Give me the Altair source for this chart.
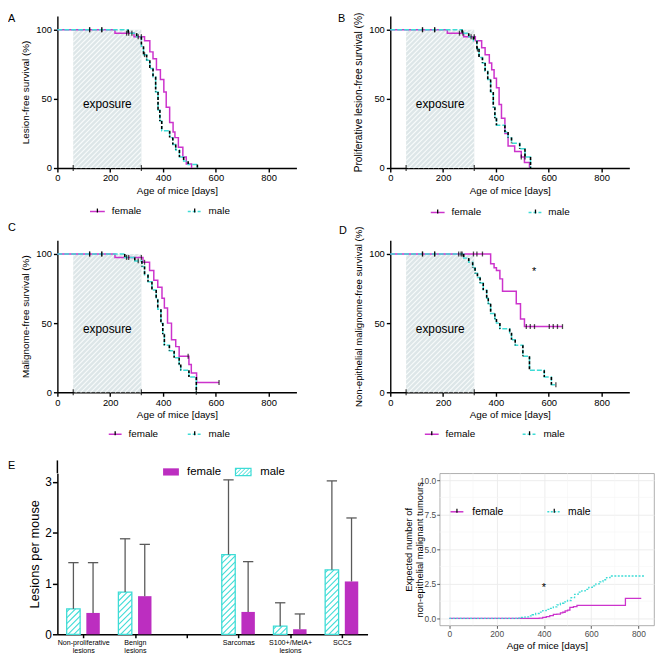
import altair as alt
import numpy as np
import pandas as pd

FONT = "Liberation Sans"
FEM = "#cc33cc"
MAL = "#3edcd6"
BAR_F = "#bc2ec0"
EXPO_FILL = "#dde6e8"
ERR = "#5a5a5a"

EXPOSURE = [60, 318]
EXPO_LABEL = [189, 46]

A_F_T = [0, 218, 290, 330, 350, 362, 375, 390, 403, 412, 425, 438, 445, 458, 475, 488, 508]
A_F_S = [100, 97.5, 95, 92, 84, 79, 71, 64, 55, 44, 33, 26, 22, 15, 8, 3, 0]
A_M_T = [0, 268, 300, 318, 326, 338, 350, 362, 372, 381, 388, 395, 425, 437, 448, 462, 478, 495, 530]
A_M_S = [100, 97.5, 95, 88, 82, 78, 72, 66, 55, 42, 34, 27, 22, 17, 13, 8, 5, 2.5, 0]
A_F_C = [122, 168, 262, 318]
A_M_C = [122, 168, 270, 282, 306, 330]

B_F_T = [0, 216, 278, 322, 346, 359, 375, 384, 393, 402, 412, 421, 434, 446, 471, 496, 508, 527]
B_F_S = [100, 97.5, 95, 92, 87, 82, 76, 71, 65, 58, 46, 36, 25, 16, 12, 8, 4, 0]
B_M_T = [0, 272, 297, 315, 328, 336, 349, 359, 369, 380, 390, 396, 402, 434, 446, 459, 490, 510, 531]
B_M_S = [100, 97.5, 95, 92, 86, 80, 76, 70, 64, 55, 44, 36, 31, 26, 22, 18, 14, 8, 0]
B_F_C = [122, 168, 262, 318, 496]
B_M_C = [122, 168, 275, 306, 330, 510]

C_F_T = [0, 218, 324, 349, 365, 380, 396, 405, 417, 432, 448, 461, 498, 507, 527, 612]
C_F_S = [100, 97.5, 94, 88, 81, 76, 68, 61, 50, 38, 33, 26, 20, 14, 7, 7]
C_M_T = [0, 255, 293, 320, 330, 343, 358, 374, 380, 392, 399, 405, 424, 442, 461, 467, 498, 526]
C_M_S = [100, 97.5, 95, 91, 85, 80, 74, 67, 60, 50, 42, 34, 30, 25, 20, 16, 11, 0]
C_F_C = [122, 168, 262, 318, 330, 495, 612]
C_M_C = [122, 168, 270, 306, 526]

D_F_T = [0, 380, 393, 402, 415, 425, 477, 493, 508, 652]
D_F_S = [100, 93, 90, 88, 82, 73, 64, 53, 47.5, 47.5]
D_M_T = [0, 278, 297, 312, 321, 330, 340, 352, 365, 371, 380, 396, 402, 415, 452, 459, 473, 502, 527, 583, 610, 627]
D_M_S = [100, 97, 94, 90, 86, 83, 79, 74, 68, 64, 57, 53, 50, 46, 43, 38, 34, 26, 16, 11, 5.5, 5.5]
D_F_C = [122, 168, 259, 272, 315, 328, 349, 515, 530, 546, 602, 617, 633, 652]
D_M_C = [122, 168, 268, 627]
D_STAR = [545, 87]

E_LABELS = ["Non-proliferative\nlesions", "Benign\nlesions", "", "Sarcomas", "S100+/MelA+\nlesions", "SCCs"]
E_POS = [0, 1, 3, 4, 5]
E_MALE = [0.50, 0.83, 1.57, 0.16, 1.27]
E_MALE_TOP = [1.41, 1.88, 3.04, 0.62, 3.02]
E_FEMALE = [0.42, 0.75, 0.44, 0.10, 1.04]
E_FEMALE_TOP = [1.41, 1.77, 1.43, 0.40, 2.29]

F_M_T = [0, 290, 305, 320, 335, 350, 365, 380, 395, 410, 425, 440, 455, 470, 485, 500, 515, 530,
         545, 560, 575, 590, 605, 620, 635, 650, 665, 680, 825]
F_M_V = [0, 0.03, 0.07, 0.12, 0.18, 0.27, 0.36, 0.46, 0.57, 0.66, 0.73, 0.84, 0.98, 1.1, 1.2, 1.3, 1.5, 1.75,
         1.9, 2.0, 2.1, 2.25, 2.35, 2.5, 2.65, 2.8, 2.95, 3.07, 3.07]
F_F_T = [0, 380, 395, 410, 425, 440, 455, 470, 480, 490, 500, 510, 525, 540, 745, 812]
F_F_V = [0, 0.03, 0.08, 0.13, 0.2, 0.3, 0.32, 0.4, 0.45, 0.55, 0.6, 0.8, 0.85, 0.95, 1.45, 1.45]
F_STAR = [400, 2.2]
F_MINOR_X = [100, 300, 500, 700]
F_MINOR_Y = [1.25, 3.75, 6.25, 8.75]

KM_W, KM_H = 242, 154
KM_XDOM = [0, 905]
KM_YDOM = [0, 110]
SX = KM_W / (KM_XDOM[1] - KM_XDOM[0])
SY = KM_H / (KM_YDOM[1] - KM_YDOM[0])

E_W, E_H = 314, 163
E_XDOM = [-0.5, 5.5]
E_YDOM = [0, 3.17]
ESX = E_W / (E_XDOM[1] - E_XDOM[0])
ESY = E_H / (E_YDOM[1] - E_YDOM[0])

F_W, F_H = 217, 154
F_XDOM = [-41, 866]
F_YDOM = [-0.5, 10.5]

ONE = pd.DataFrame({"k": [0]})


def hatch(x0, x1, y0, y1, sx, sy, gap):
    W = (x1 - x0) * sx
    H = (y1 - y0) * sy
    rows = []
    c = -H + gap / 2
    while c < W:
        xa = max(0.0, c)
        xb = min(W, c + H)
        if xb > xa:
            rows.append({"x1": x0 + xa / sx, "y1": y0 + (xa - c) / sy,
                         "x2": x0 + xb / sx, "y2": y0 + (xb - c) / sy})
        c += gap
    return rows


def vtext(txt, x, y, size=10, align="left", baseline="middle", color="black"):
    return alt.Chart(ONE).mark_text(text=txt, font=FONT, fontSize=size, align=align,
                                    baseline=baseline, color=color).encode(
        x=alt.value(x), y=alt.value(y))


def vrule(x1, x2, y1, y2, color, width=1.5, dash=None, opacity=1.0):
    kw = dict(color=color, strokeWidth=width, opacity=opacity)
    if dash:
        kw["strokeDash"] = dash
    return alt.Chart(ONE).mark_rule(**kw).encode(
        x=alt.value(x1), x2=alt.value(x2), y=alt.value(y1), y2=alt.value(y2))


def spacer(L, R, T, Bm):
    # invisible frame that fixes the extent of a panel in the layout
    return alt.Chart(ONE).mark_rect(fillOpacity=0, strokeOpacity=0).encode(
        x=alt.value(L), x2=alt.value(R), y=alt.value(T), y2=alt.value(Bm))


def step_at(t, s, tc):
    idx = max(i for i in range(len(t)) if t[i] <= tc)
    return s[idx]


def km_panel(letter, ytitle, ft, fs, mt, ms, fc, mc, lab, sp, leg, star=None, ytsize=10):
    xa = alt.Axis(values=[0, 200, 400, 600, 800], title="Age of mice [days]", grid=False,
                  domainColor="black", domainWidth=1.4, tickColor="black", tickWidth=1.4, tickSize=4,
                  labelFontSize=9.5, labelColor="black", labelPadding=1, labelFlush=False,
                  titleFontSize=10, titleFontWeight="normal", titleColor="black", titlePadding=3)
    ya = alt.Axis(values=[0, 50, 100], title=ytitle, grid=False,
                  domainColor="black", domainWidth=1.4, tickColor="black", tickWidth=1.4, tickSize=4,
                  labelFontSize=9.5, labelColor="black", labelPadding=2,
                  titleFontSize=ytsize, titleFontWeight="normal", titleColor="black", titlePadding=5)

    def X(f):
        return alt.X(f, type="quantitative", scale=alt.Scale(domain=KM_XDOM, nice=False, zero=False), axis=xa)

    def Y(f):
        return alt.Y(f, type="quantitative", scale=alt.Scale(domain=KM_YDOM, nice=False, zero=False), axis=ya)

    layers = []
    expo = pd.DataFrame({"a": [EXPOSURE[0]], "b": [EXPOSURE[1]], "lo": [0], "hi": [100]})
    layers.append(alt.Chart(expo).mark_rect(fill=EXPO_FILL).encode(x=X("a"), x2="b", y=Y("lo"), y2="hi"))
    hd = pd.DataFrame(hatch(EXPOSURE[0], EXPOSURE[1], 0, 100, SX, SY, 5))
    layers.append(alt.Chart(hd).mark_rule(color="#f8fbfb", strokeWidth=1.1).encode(
        x=X("x1"), x2="x2", y=Y("y1"), y2="y2"))
    layers.append(alt.Chart(pd.DataFrame({"x": [EXPO_LABEL[0]], "y": [EXPO_LABEL[1]], "l": ["exposure"]}))
                  .mark_text(font=FONT, fontSize=12, color="black").encode(x=X("x"), y=Y("y"), text="l"))
    layers.append(alt.Chart(pd.DataFrame({"x": EXPOSURE, "y": [0, 0]}))
                  .mark_tick(orient="vertical", size=6, thickness=1.3, color="black").encode(x=X("x"), y=Y("y")))

    fdf = pd.DataFrame({"t": ft, "s": fs})
    mdf = pd.DataFrame({"t": mt, "s": ms})
    drops = pd.DataFrame({"t": mt[1:], "s0": ms[:-1], "s1": ms[1:]})
    layers.append(alt.Chart(fdf).mark_line(interpolate="step-after", color=FEM, strokeWidth=1.5)
                  .encode(x=X("t"), y=Y("s")))
    layers.append(alt.Chart(mdf).mark_line(interpolate="step-after", color=MAL, strokeWidth=1.5,
                                           strokeDash=[5, 2]).encode(x=X("t"), y=Y("s")))
    layers.append(alt.Chart(drops).mark_rule(color="black", strokeWidth=1.6, strokeDash=[3, 2])
                  .encode(x=X("t"), y=Y("s0"), y2="s1"))
    cens = pd.DataFrame({"t": fc + mc,
                         "s": [step_at(ft, fs, c) for c in fc] + [step_at(mt, ms, c) for c in mc]})
    layers.append(alt.Chart(cens).mark_tick(orient="vertical", size=5, thickness=1.3, color="black")
                  .encode(x=X("t"), y=Y("s")))
    if star:
        layers.append(alt.Chart(pd.DataFrame({"x": [star[0]], "y": [star[1]], "l": ["*"]}))
                      .mark_text(font=FONT, fontSize=11, color="black").encode(x=X("x"), y=Y("y"), text="l"))

    layers.append(vtext(letter, lab[0], lab[1], size=11, baseline="top"))
    (f0, f1, ftx, m0, m1, mtx, ly) = leg
    layers.append(vrule(f0, f1, ly, ly, FEM, 1.5))
    layers.append(vrule((f0 + f1) / 2, (f0 + f1) / 2, ly - 3, ly + 1, "black", 1.3))
    layers.append(vtext("female", ftx, ly, size=10))
    layers.append(vrule(m0, m1, ly, ly, MAL, 1.5, dash=[3, 2]))
    layers.append(vrule((m0 + m1) / 2, (m0 + m1) / 2, ly - 3, ly + 1, "black", 1.3))
    layers.append(vtext("male", mtx, ly, size=10))
    layers.append(spacer(*sp))
    return alt.layer(*layers).properties(width=KM_W, height=KM_H)


A = km_panel("A", "Lesion-free survival (%)", A_F_T, A_F_S, A_M_T, A_M_S, A_F_C, A_M_C,
             (-50, -3), (-50, 243, -3, 204), (33, 48, 55, 132, 146, 153, 198))
B = km_panel("B", "Proliferative lesion-free survival (%)", B_F_T, B_F_S, B_M_T, B_M_S, B_F_C, B_M_C,
             (-53, -3), (-57, 244, -3, 204), (41, 55, 62, 140, 154, 160, 199), ytsize=10.3)
C = km_panel("C", "Malignome-free survival (%)", C_F_T, C_F_S, C_M_T, C_M_S, C_F_C, C_M_C,
             (-50, -18.5), (-50, 243, -22.7, 202.3), (52, 65, 72, 132, 146, 153, 196.5))
D = km_panel("D", "Non-epithelial malignome-free survival (%)", D_F_T, D_F_S, D_M_T, D_M_S, D_F_C, D_M_C,
             (-52, -15), (-57, 244, -22.7, 202.3), (35, 49, 56, 134, 148, 155, 196.5), star=D_STAR, ytsize=9.7)

expr = "''"
for i in reversed(range(len(E_LABELS))):
    lines = E_LABELS[i].split("\n")
    if len(lines) > 1:
        lit = "[" + ",".join("'" + l + "'" for l in lines) + "]"
    else:
        lit = "'" + lines[0] + "'"
    expr = "datum.value == %d ? %s : (%s)" % (i, lit, expr)

exa = alt.Axis(values=[0, 1, 2, 3, 4, 5], labelExpr=expr, title=None, grid=False,
               domainColor="black", domainWidth=1.5, tickColor="black", tickWidth=1.5, tickSize=3.5,
               labelFontSize=7.2, labelColor="black", labelPadding=1, labelLineHeight=8.3,
               labelBaseline="top", labelFlush=False, labelOverlap=False)
eya = alt.Axis(values=[0, 1, 2, 3], format="d", title="Lesions per mouse", grid=False,
               domainColor="black", domainWidth=1.5, tickColor="black", tickWidth=1.5, tickSize=5,
               labelFontSize=12, labelColor="black", labelPadding=1,
               titleFontSize=13, titleFontWeight="normal", titleColor="black", titlePadding=3)


def EX(f):
    return alt.X(f, type="quantitative", scale=alt.Scale(domain=E_XDOM, nice=False, zero=False), axis=exa)


def EY(f):
    return alt.Y(f, type="quantitative", scale=alt.Scale(domain=E_YDOM, nice=False, zero=False), axis=eya)


def bars_df(pos, vals, tops, lo, hi):
    xc = [p + (lo + hi) / 2 for p in pos]
    return pd.DataFrame({"x1": [p + lo for p in pos], "x2": [p + hi for p in pos], "v": vals, "sd": tops,
                         "xc": xc, "c1": [c - 0.1 for c in xc], "c2": [c + 0.1 for c in xc],
                         "z": [0] * len(pos)})


mb = bars_df(E_POS, E_MALE, E_MALE_TOP, -0.32, -0.06)
fb = bars_df(E_POS, E_FEMALE, E_FEMALE_TOP, 0.06, 0.32)
eh = []
for _, r in mb.iterrows():
    eh += hatch(r.x1, r.x2, 0, r.v, ESX, ESY, 6)
eh = pd.DataFrame(eh)

e_layers = [
    alt.Chart(mb).mark_rect(fill="white", stroke=MAL, strokeWidth=1.3).encode(x=EX("x1"), x2="x2", y=EY("z"), y2="v"),
    alt.Chart(eh).mark_rule(color=MAL, strokeWidth=1.1).encode(x=EX("x1"), x2="x2", y=EY("y1"), y2="y2"),
    alt.Chart(fb).mark_rect(fill=BAR_F).encode(x=EX("x1"), x2="x2", y=EY("z"), y2="v"),
]
for bd in (mb, fb):
    e_layers.append(alt.Chart(bd).mark_rule(color=ERR, strokeWidth=1.3).encode(x=EX("xc"), y=EY("v"), y2="sd"))
    e_layers.append(alt.Chart(bd).mark_rule(color=ERR, strokeWidth=1.3).encode(x=EX("c1"), x2="c2", y=EY("sd")))

e_layers.append(vrule(0, 0, -13, 0, "black", 1.5))
LY0, LY1 = -5, 2.3
e_layers.append(alt.Chart(ONE).mark_rect(fill=BAR_F).encode(
    x=alt.value(107), x2=alt.value(123), y=alt.value(LY0), y2=alt.value(LY1)))
e_layers.append(alt.Chart(ONE).mark_rect(fill="white", stroke=MAL, strokeWidth=1.2).encode(
    x=alt.value(180.3), x2=alt.value(196), y=alt.value(LY0), y2=alt.value(LY1)))
for h in hatch(180.3, 196, 0, LY1 - LY0, 1, 1, 4):
    e_layers.append(vrule(h["x1"], h["x2"], LY1 - h["y1"], LY1 - h["y2"], MAL, 1.0))
e_layers.append(vtext("female", 131.3, (LY0 + LY1) / 2, size=11.5))
e_layers.append(vtext("male", 205.3, (LY0 + LY1) / 2, size=11.5))
e_layers.append(vtext("E", -50, -13, size=11, baseline="top"))
e_layers.append(spacer(-50, 315, -32, 183))
E = alt.layer(*e_layers).properties(width=E_W, height=E_H)

fxa = alt.Axis(values=[0, 200, 400, 600, 800], grid=True, gridColor="#ebebeb", gridWidth=0.9, domain=False,
               tickColor="#333333", tickSize=3, tickWidth=0.8, labelFontSize=8.5, labelColor="#4d4d4d",
               labelPadding=1, labelFlush=False, title="Age of mice [days]", titleFontSize=10,
               titleFontWeight="normal", titleColor="black", titlePadding=3)
fya = alt.Axis(values=[0, 2.5, 5, 7.5, 10], format=".1f", grid=True, gridColor="#ebebeb", gridWidth=0.9,
               domain=False, tickColor="#333333", tickSize=3, tickWidth=0.8, labelFontSize=8.5,
               labelColor="#4d4d4d", labelPadding=1,
               title=["Expected number of", "non-epithelial malignant tumours"], titleFontSize=9.5,
               titleLineHeight=11, titleFontWeight="normal", titleColor="black", titlePadding=-5)


def FX(f):
    return alt.X(f, type="quantitative", scale=alt.Scale(domain=F_XDOM, nice=False, zero=False), axis=fxa)


def FY(f):
    return alt.Y(f, type="quantitative", scale=alt.Scale(domain=F_YDOM, nice=False, zero=False), axis=fya)


f_layers = [
    alt.Chart(pd.DataFrame({"x": F_MINOR_X})).mark_rule(color="#f4f4f4", strokeWidth=0.6).encode(x=FX("x")),
    alt.Chart(pd.DataFrame({"y": F_MINOR_Y})).mark_rule(color="#f4f4f4", strokeWidth=0.6).encode(y=FY("y")),
    alt.Chart(pd.DataFrame({"t": F_F_T, "v": F_F_V})).mark_line(interpolate="step-after", color=FEM, strokeWidth=1.3)
    .encode(x=FX("t"), y=FY("v")),
    alt.Chart(pd.DataFrame({"t": F_M_T, "v": F_M_V})).mark_line(interpolate="step-after", color=MAL, strokeWidth=1.3,
                                                              strokeDash=[2, 1.5]).encode(x=FX("t"), y=FY("v")),
    alt.Chart(pd.DataFrame({"x": [F_STAR[0]], "y": [F_STAR[1]], "l": ["*"]}))
    .mark_text(font=FONT, fontSize=11, color="black").encode(x=FX("x"), y=FY("y"), text="l"),
    vrule(11, 24, 39, 39, FEM, 1.5),
    vrule(17.5, 17.5, 36, 40, "black", 1.2),
    vtext("female", 33, 39, size=10.5),
    vrule(109, 123, 39, 39, MAL, 1.5, dash=[2, 1.5]),
    vrule(116, 116, 36, 40, "black", 1.2),
    vtext("male", 130, 39, size=10.5),
    spacer(-42, 217.5, -32, 180),
]
F = alt.layer(*f_layers).properties(width=F_W, height=F_H,
                                     view=alt.ViewBackground(stroke="#9a9a9a", strokeWidth=0.8))

row1 = alt.hconcat(A, B, spacing=37)
row2 = alt.hconcat(C, D, spacing=37)
row3 = alt.hconcat(E, F, spacing=29)
chart = (alt.vconcat(row1, row2, row3, spacing=0)
         .properties(padding=0)
         .configure_view(stroke=None)
         .configure_axis(labelFont=FONT, titleFont=FONT))

chart.save("out.html", embed_options={"renderer": "svg", "actions": False})
